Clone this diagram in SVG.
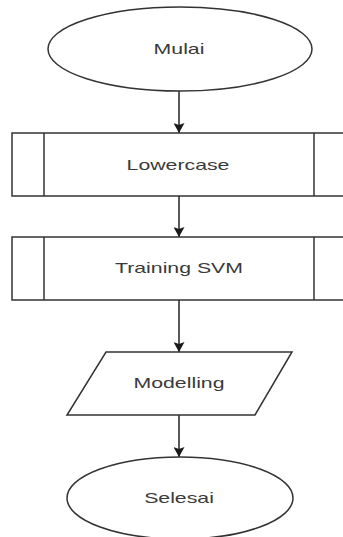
<svg xmlns="http://www.w3.org/2000/svg" width="343" height="537" viewBox="0 0 343 537">
<defs>
<marker id="arr" markerWidth="11" markerHeight="11" refX="10" refY="5.5" orient="auto" markerUnits="userSpaceOnUse">
<path d="M0,0 L10,5.5 L0,11 L2,5.5 Z" fill="#1a1a1a"/>
</marker>
<style>
.s{fill:#fff;stroke:#333;stroke-width:1.5}
.t{font-family:"Liberation Sans",Arial,sans-serif;font-size:14px;fill:#3a3a3a;text-anchor:middle}
.c{stroke:#222;stroke-width:1.5;fill:none}
</style>
</defs>
<rect width="343" height="537" fill="#fff"/>
<g id="connectors">
<line class="c" x1="179" y1="91" x2="179" y2="133" marker-end="url(#arr)"/>
<line class="c" x1="179" y1="196" x2="179" y2="237" marker-end="url(#arr)"/>
<line class="c" x1="179" y1="300" x2="179" y2="352" marker-end="url(#arr)"/>
<line class="c" x1="179" y1="415" x2="179" y2="457" marker-end="url(#arr)"/>
</g>
<g id="mulai">
<ellipse class="s" cx="180" cy="49" rx="132" ry="42"/>
<text class="t" transform="translate(179,54) scale(1.52,1)">Mulai</text>
</g>
<g id="lowercase">
<rect class="s" x="12" y="133" width="334" height="63"/>
<line class="s" x1="44" y1="133" x2="44" y2="196"/>
<line class="s" x1="314" y1="133" x2="314" y2="196"/>
<text class="t" transform="translate(178,170) scale(1.52,1)">Lowercase</text>
</g>
<g id="training">
<rect class="s" x="12" y="237" width="334" height="63"/>
<line class="s" x1="44" y1="237" x2="44" y2="300"/>
<line class="s" x1="314" y1="237" x2="314" y2="300"/>
<text class="t" transform="translate(179,273) scale(1.52,1)">Training SVM</text>
</g>
<g id="modelling">
<polygon class="s" points="106,352 292,352 255,415 67,415"/>
<text class="t" transform="translate(179,388) scale(1.52,1)">Modelling</text>
</g>
<g id="selesai">
<ellipse class="s" cx="180" cy="498" rx="113" ry="41"/>
<text class="t" transform="translate(179,503) scale(1.52,1)">Selesai</text>
</g>
</svg>
